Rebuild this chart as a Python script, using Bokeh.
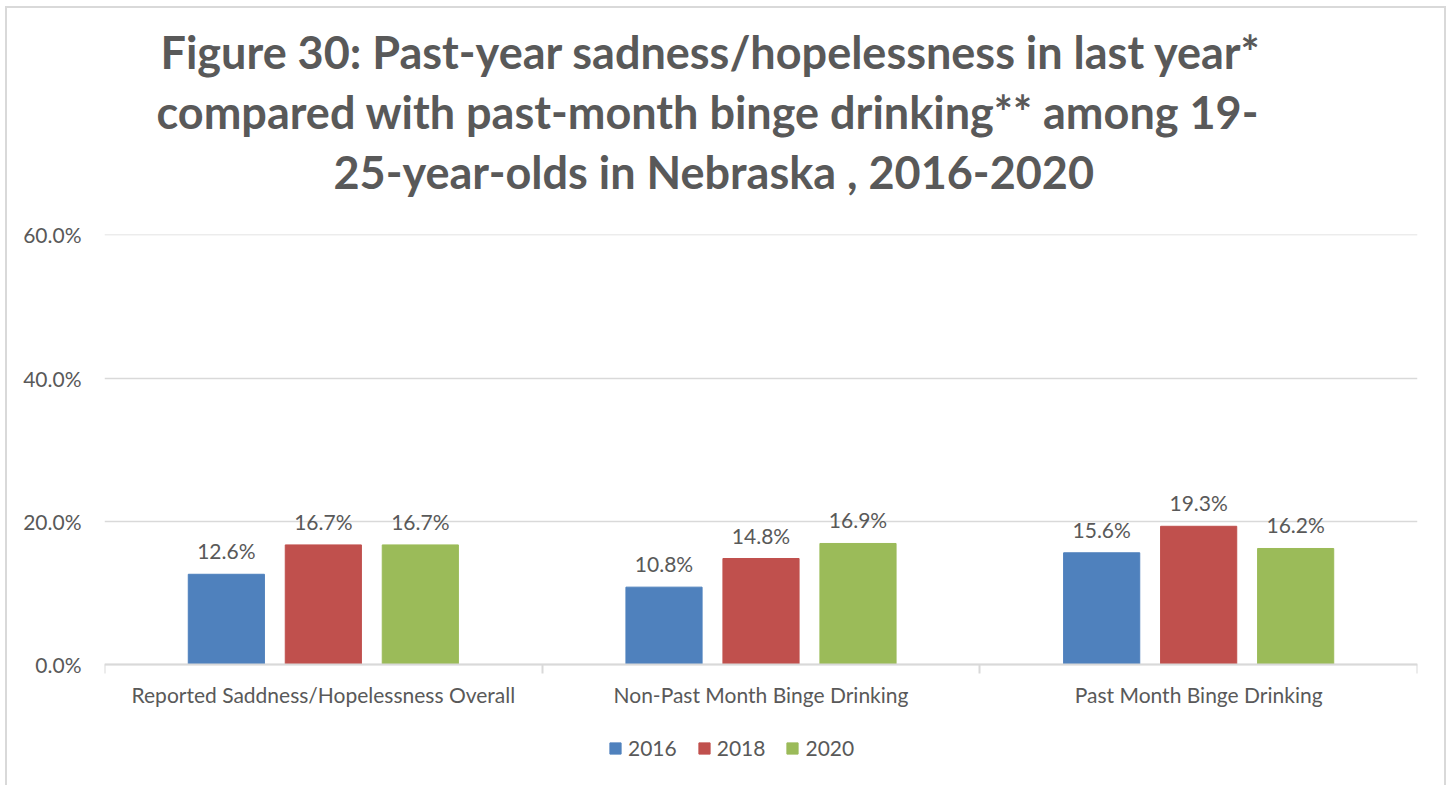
from bokeh.plotting import figure
from bokeh.models import (ColumnDataSource, FixedTicker, PrintfTickFormatter, Legend,
                          LegendItem, Range1d, LabelSet, Title)
from bokeh.core.properties import value
from bokeh.embed import file_html
from bokeh.resources import INLINE

categories = ["Reported Saddness/Hopelessness Overall",
              "Non-Past Month Binge Drinking",
              "Past Month Binge Drinking"]
years = ["2016", "2018", "2020"]
v2016 = [12.6, 10.8, 15.6]
v2018 = [16.7, 14.8, 19.3]
v2020 = [16.7, 16.9, 16.2]
y_ticks = [0, 20, 40, 60]
title_lines = ["Figure 30: Past-year sadness/hopelessness in last year*",
               "compared with past-month binge drinking** among 19-",
               "25-year-olds in Nebraska , 2016-2020"]

series = [v2016, v2018, v2020]
colors = ["#4F81BD", "#C0504D", "#9BBB59"]
offsets = [-0.2216, 0.0, 0.2216]
bar_w = 0.174
TXT = "#595959"
FONT = "Lato"
# the frame extends below 0 so that the legend can sit inside it
Y_TOP = 60.05
Y_BOTTOM = -16.76

p = figure(frame_width=1313, frame_height=550, x_range=Range1d(0, 3),
           y_range=Range1d(Y_BOTTOM, Y_TOP),
           output_backend="svg", toolbar_location=None,
           min_border_left=97, min_border_right=27, min_border_top=226,
           min_border_bottom=5)
p.outline_line_color = None
p.styles = {"border-left": "2px solid #d9d9d9", "border-top": "2px solid #d9d9d9",
            "border-right": "2px solid #d9d9d9", "margin-left": "5px",
            "margin-top": "6px"}

items = []
for yr, vals, col, off in zip(years, series, colors, offsets):
    src = ColumnDataSource(dict(x=[i + 0.5 + off for i in range(len(categories))],
                                top=vals,
                                lab=[f"{v:.1f}%" for v in vals]))
    r = p.vbar(x="x", top="top", bottom=0, width=bar_w, source=src, fill_color=col,
               line_color=col)
    items.append(LegendItem(label=yr, renderers=[r]))
    p.add_layout(LabelSet(x="x", y="top", text="lab", source=src, text_align="center",
                          text_baseline="bottom", y_offset=11, text_font=value(FONT),
                          text_font_size="21px", text_color=TXT))

# y axis
p.yaxis.ticker = FixedTicker(ticks=y_ticks)
p.yaxis.formatter = PrintfTickFormatter(format="%.1f%%")
p.yaxis.axis_line_color = None
p.yaxis.major_tick_line_color = None
p.yaxis.minor_tick_line_color = None
p.yaxis.major_label_standoff = 17
p.yaxis.major_label_text_font = FONT
p.yaxis.major_label_text_font_size = "21px"
p.yaxis.major_label_text_color = TXT

# x axis, drawn at y = 0
p.xaxis.fixed_location = 0
p.xaxis.ticker = FixedTicker(ticks=[i + 0.5 for i in range(len(categories))],
                             minor_ticks=list(range(len(categories) + 1)))
p.xaxis.major_label_overrides = {i + 0.5: c for i, c in enumerate(categories)}
p.xaxis.axis_line_color = "#d9d9d9"
p.xaxis.axis_line_width = 2
p.xaxis.major_tick_line_color = None
p.xaxis.major_tick_out = 0
p.xaxis.major_tick_in = 0
p.xaxis.minor_tick_line_color = "#d9d9d9"
p.xaxis.minor_tick_line_width = 2
p.xaxis.minor_tick_out = 9
p.xaxis.minor_tick_in = 0
p.xaxis.major_label_standoff = 9
p.xaxis.major_label_text_font = FONT
p.xaxis.major_label_text_font_size = "21px"
p.xaxis.major_label_text_color = TXT

p.xgrid.grid_line_color = None
p.ygrid.grid_line_color = "#d9d9d9"
p.ygrid.grid_line_width = 1.5

# spacer between title and frame, then title lines from nearest the frame outward
p.add_layout(Title(text=" ", text_font_size="1px", standoff=31), "above")
title_offsets = [56, 52, 229]
for k in [2, 1, 0]:
    p.add_layout(Title(text=title_lines[k], align="left", offset=title_offsets[k],
                       standoff=4, text_font=FONT,
                       text_font_size="45px", text_font_style="bold",
                       text_color=TXT), "above")

legend = Legend(items=items, orientation="horizontal", location=(504, 24),
                border_line_color=None, background_fill_alpha=0,
                glyph_width=14, glyph_height=14, label_standoff=6, spacing=20,
                label_text_font=FONT, label_text_font_size="21px",
                label_text_color=TXT, margin=0, padding=6)
p.add_layout(legend, "center")

open("out.html", "w").write(file_html(p, INLINE))
